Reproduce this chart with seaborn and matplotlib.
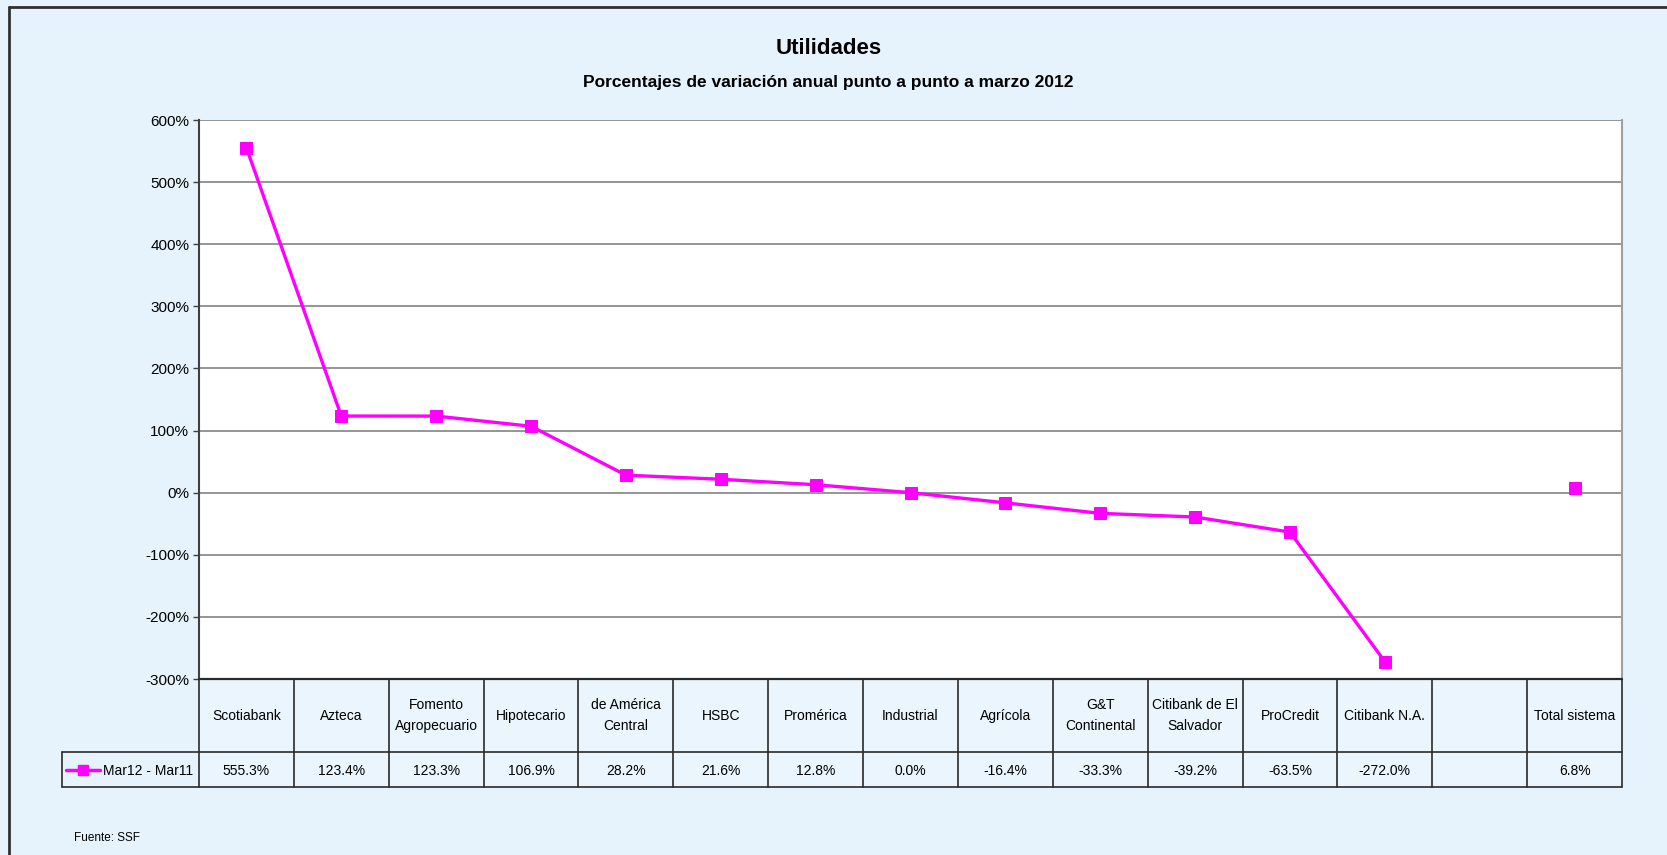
import numpy as np
import pandas as pd
import matplotlib
matplotlib.use('Agg')
import matplotlib.pyplot as plt
import seaborn as sns
from matplotlib import font_manager

banks = ['Scotiabank', 'Azteca', 'Fomento\nAgropecuario', 'Hipotecario', 'de América\nCentral',
         'HSBC', 'Promérica', 'Industrial', 'Agrícola', 'G&T\nContinental',
         'Citibank de El\nSalvador', 'ProCredit', 'Citibank N.A.', '', 'Total sistema']
values = [555.3, 123.4, 123.3, 106.9, 28.2, 21.6, 12.8, 0.0, -16.4, -33.3, -39.2, -63.5, -272.0,
          np.nan, 6.8]
series_name = 'Mar12 - Mar11'
yticks = list(range(-300, 601, 100))

sns.set_theme(style='white')
names = {f.name for f in font_manager.fontManager.ttflist}
narrow = 'Liberation Sans Narrow' if 'Liberation Sans Narrow' in names else 'Liberation Sans'
plt.rcParams['font.family'] = [narrow, 'DejaVu Sans']
plt.rcParams['text.color'] = 'black'
plt.rcParams['ytick.color'] = 'black'

W, H = 1667, 855
bg = '#E6F3FD'
mag = '#FF00FF'
fig = plt.figure(figsize=(W / 100, H / 100), dpi=100)
fig.patch.set_facecolor(bg)

# plot area in pixels
L, R, T, B = 199, 1622, 120, 679
ax = fig.add_axes([L / W, 1 - B / H, (R - L) / W, (B - T) / H])
ax.set_facecolor('white')

df = pd.DataFrame({'pos': np.arange(len(banks)), 'val': values})
line_df = df.iloc[:13]
sns.lineplot(data=line_df, x='pos', y='val', ax=ax, color=mag, linewidth=2.4,
             marker='s', markersize=9, markeredgecolor=mag, zorder=5)
sns.scatterplot(data=df.iloc[14:], x='pos', y='val', ax=ax, color=mag, marker='s',
                s=80, edgecolor=mag, zorder=5)

ax.set_xlim(-0.5, len(banks) - 0.5)
ax.set_ylim(-300, 600)
ax.set_yticks(yticks)
ax.set_yticklabels([f'{v}%' for v in yticks], fontsize=11, color='black')
ax.set_xticks([])
ax.set_xlabel('')
ax.set_ylabel('')
ax.yaxis.grid(True, color='#8C8C8C', linewidth=1.3)
ax.tick_params(axis='y', length=4, width=1, color='#404040', left=True, pad=3)
for s in ['top', 'bottom']:
    ax.spines[s].set_visible(False)
ax.spines['left'].set_color('#404040')
ax.spines['left'].set_linewidth(1.5)
ax.spines['right'].set_color('#A0A0A0')
ax.spines['right'].set_linewidth(1.5)

# overlay in pixel coords for table, titles, frame
ov = fig.add_axes([0, 0, 1, 1], facecolor='none')
ov.set_xlim(0, W)
ov.set_ylim(H, 0)
ov.axis('off')

ov.text(W / 2 - 5, 48, 'Utilidades', ha='center', va='center', fontsize=16, fontweight='bold')
ov.text(W / 2 - 5, 83, 'Porcentajes de variación anual punto a punto a marzo 2012',
        ha='center', va='center', fontsize=12.5, fontweight='bold')

# table
cw = (R - L) / len(banks)
r0, r1, r2 = B, 752, 787
leg_left = 62
cell_bg = '#EAF5FD'
ov.add_patch(plt.Rectangle((L, r0), R - L, r2 - r0, facecolor=cell_bg, edgecolor='none'))
lc = '#2A2A2A'
ov.plot([L, R], [r0, r0], color=lc, lw=1.6)
ov.plot([leg_left, R], [r1, r1], color=lc, lw=1.2)
ov.plot([leg_left, R], [r2, r2], color=lc, lw=1.2)
ov.plot([leg_left, leg_left], [r1, r2], color=lc, lw=1.2)
for i in range(len(banks) + 1):
    x = L + i * cw
    ov.plot([x, x], [r0, r2], color=lc, lw=1.2)
for i, (b, v) in enumerate(zip(banks, values)):
    xc = L + (i + 0.5) * cw
    ov.text(xc, (r0 + r1) / 2, b, ha='center', va='center', fontsize=10, linespacing=1.6)
    if not np.isnan(v):
        ov.text(xc, (r1 + r2) / 2 + 1, f'{v:.1f}%', ha='center', va='center', fontsize=10)

# legend key in table
ov.plot([66, 100], [(r1 + r2) / 2] * 2, color=mag, lw=2.5)
ov.plot([83], [(r1 + r2) / 2], marker='s', color=mag, markersize=7)
ov.text(103, (r1 + r2) / 2 + 1, series_name, ha='left', va='center', fontsize=10)

ov.text(74, 838, 'Fuente: SSF', ha='left', va='center', fontsize=8.5)

# outer frame
ov.plot([9, W + 5], [7, 7], color='#303030', lw=2)
ov.plot([9, 9], [7, H + 5], color='#303030', lw=2)

fig.savefig('out.png', dpi=100, facecolor=bg)
